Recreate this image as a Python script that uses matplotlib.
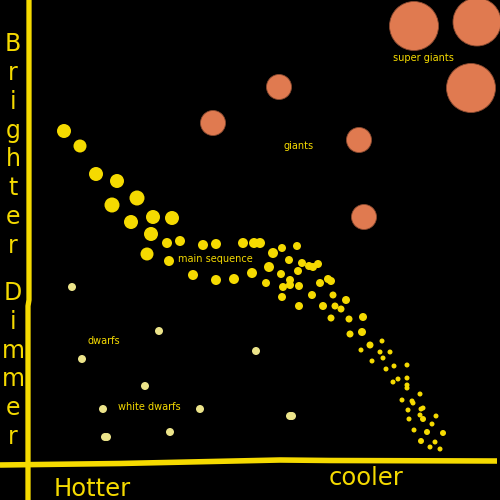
import matplotlib
matplotlib.use("Agg")
import matplotlib.pyplot as plt

# ---- data (pixel-like chart coordinates: x = temperature axis, y = brightness axis, downwards) ----
main_x = [64, 80, 96, 117, 137, 112, 131, 153, 172, 151, 167, 180, 147, 169,
          203, 216, 243, 254, 260, 193, 216, 234, 252,
          273, 282, 297, 269, 289, 302, 309, 313, 318, 281, 298, 266, 283, 290, 290, 299,
          320, 328, 331, 282, 312, 299, 323, 333, 335, 341, 346, 331, 349, 363, 350, 362,
          382, 370, 361, 380, 390, 383, 372, 394, 407, 386, 398, 393, 407, 407, 407,
          420, 402, 412, 413, 421, 423, 408, 420, 423, 436, 409, 432, 414, 427, 443,
          421, 435, 430, 440]
main_y = [131, 146, 174, 181, 198, 205, 222, 217, 218, 234, 243, 241, 254, 261,
          245, 244, 243, 243, 243, 275, 280, 279, 273,
          253, 248, 246, 267, 260, 263, 266, 267, 264, 274, 271, 283, 287, 280, 285, 286,
          283, 279, 281, 297, 295, 306, 306, 295, 306, 309, 300, 318, 319, 317, 334, 332,
          341, 345, 350, 352, 352, 358, 361, 366, 365, 369, 379, 382, 378, 385, 388,
          394, 400, 401, 403, 409, 408, 410, 415, 419, 416, 419, 424, 430, 432, 433,
          441, 442, 447, 449]
main_d = [14, 13, 14, 14, 15, 15, 14, 14, 14, 14, 10, 10, 13, 10,
          10, 10, 10, 10, 10, 10, 10, 10, 10,
          10, 8, 8, 10, 8, 8, 8, 8, 8, 8, 8, 8, 8, 8, 8, 8,
          8, 8, 8, 8, 8, 8, 8, 7, 7, 7, 8, 7, 7, 8, 7, 8,
          5, 7, 5, 5, 5, 5, 5, 5, 5, 5, 5, 5, 5, 5, 5,
          5, 5, 5, 5, 5, 5, 5, 5, 6, 5, 5, 5, 5, 6, 6,
          6, 5, 5, 5]

giant_x = [213, 279, 359, 364]
giant_y = [123, 87, 140, 217]
giant_d = [25, 25, 25, 25]

super_x = [414, 477, 471]
super_y = [26, 22, 88]
super_d = [49, 48, 49]

dwarf_x = [72, 159, 82, 145, 103, 200, 105, 107, 170, 256, 290, 292]
dwarf_y = [287, 331, 359, 386, 409, 409, 437, 437, 432, 351, 416, 416]
dwarf_d = [8, 8, 8, 8, 8, 8, 8, 8, 8, 8, 8, 8]

labels = ["main sequence", "giants", "super giants", "dwarfs", "white dwarfs"]
label_x = [178, 284, 393, 87, 118]
label_y = [259, 146, 58, 341, 407]

axis_v_x = [29, 29, 28, 28]
axis_v_y = [0, 300, 306, 500]
axis_h_x = [0, 120, 280, 330, 497]
axis_h_y = [465, 463.5, 460, 460.5, 461]

YELLOW = "#F5DA00"
ORANGE = "#E07A50"
PALE = "#ECE48A"

def s_of(d):
    return [(v * 0.72) ** 2 for v in d]

fig = plt.figure(figsize=(5, 5), dpi=100, facecolor="black")
ax = fig.add_axes([0, 0, 1, 1])
ax.set_facecolor("black")
ax.set_xlim(0, 500)
ax.set_ylim(500, 0)
ax.axis("off")

ax.plot(axis_v_x, axis_v_y, color=YELLOW, lw=3.8, solid_capstyle="butt", zorder=1)
ax.plot(axis_h_x, axis_h_y, color=YELLOW, lw=4.0, solid_capstyle="butt", zorder=1)

ax.scatter(main_x, main_y, s=s_of(main_d), color=YELLOW, edgecolors="none", zorder=3)
ax.scatter(giant_x, giant_y, s=s_of(giant_d), color=ORANGE, edgecolors="#8a4a30",
           linewidths=0.6, zorder=3)
ax.scatter(super_x, super_y, s=s_of(super_d), color=ORANGE, edgecolors="#8a4a30",
           linewidths=0.6, zorder=3)
ax.scatter(dwarf_x, dwarf_y, s=s_of(dwarf_d), color=PALE, edgecolors="none", zorder=3)

for t, x, y in zip(labels, label_x, label_y):
    ax.text(x, y, t, color=YELLOW, fontsize=7, ha="left", va="center",
            family="DejaVu Sans", zorder=4)

ax.text(13, 145, "\n".join("Brighter"), color=YELLOW, fontsize=17, ha="center",
        va="center", linespacing=1.26, multialignment="center", family="DejaVu Sans")
ax.text(13, 365, "\n".join("Dimmer"), color=YELLOW, fontsize=17, ha="center",
        va="center", linespacing=1.26, multialignment="center", family="DejaVu Sans")
ax.text(92, 489, "Hotter", color=YELLOW, fontsize=17.5, ha="center", va="center",
        family="DejaVu Sans")
ax.text(366, 478, "cooler", color=YELLOW, fontsize=17.5, ha="center", va="center",
        family="DejaVu Sans")

fig.savefig("out.png", dpi=100, facecolor="black")
